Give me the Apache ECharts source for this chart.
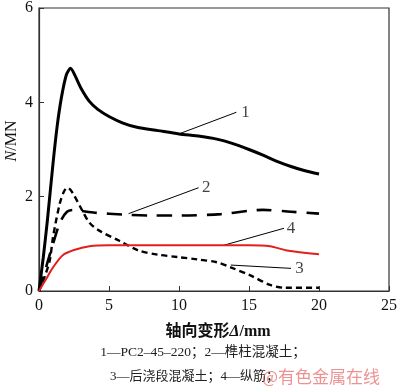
<!DOCTYPE html>
<html><head><meta charset="utf-8">
<script src="https://cdn.jsdelivr.net/npm/echarts@6/dist/echarts.min.js"></script>
<style>html,body{margin:0;padding:0;background:#fff}#c{width:400px;height:392px}</style>
</head><body><div id="c"></div>
<script>
// Series data: [axial deformation (mm), N (MN)]
const curve1 = [[0,0],[0.3,0.7],[0.6,1.5],[1.0,2.7],[1.3,3.5],[1.6,4.1],[1.95,4.58],[2.25,4.72],[2.6,4.55],[3.0,4.3],[3.6,4.02],[4.2,3.85],[5,3.7],[6,3.56],[7,3.47],[8.5,3.4],[10,3.33],[11.5,3.28],[12.7,3.22],[13.8,3.13],[15,3.0],[16,2.88],[17,2.75],[18,2.64],[19,2.55],[20,2.48]];
const curve2 = [[0,0],[0.3,0.3],[0.7,0.7],[1.0,1.0],[1.5,1.45],[2.0,1.68],[2.5,1.72],[3,1.7],[4,1.66],[6,1.62],[8,1.6],[10,1.6],[13,1.63],[15,1.7],[16,1.72],[18,1.68],[20,1.64]];
const curve3 = [[0,0],[0.4,0.3],[0.77,0.65],[1.0,1.14],[1.48,1.85],[1.8,2.12],[2.05,2.19],[2.4,2.08],[3.1,1.7],[3.6,1.45],[4.3,1.28],[5.7,1.07],[7.1,0.86],[8.5,0.77],[9.9,0.72],[11.3,0.67],[12.7,0.61],[13.7,0.5],[15.1,0.33],[16.5,0.13],[17.5,0.07],[20,0.07]];
const curve4 = [[0,0],[0.5,0.25],[1.0,0.5],[1.7,0.76],[2.5,0.87],[3.6,0.95],[5,0.97],[10,0.97],[15,0.97],[16.5,0.95],[17.7,0.86],[20,0.78]];
// leader lines: [start, end] and label positions
const leader1 = [[9.9,3.32],[14.1,3.79]];
const leader2 = [[6.4,1.64],[11.4,2.19]];
const leader3 = [[13.7,0.55],[18.0,0.48]];
const leader4 = [[13.2,0.97],[17.5,1.33]];
const curveLabels = [[14.75,3.79,'1'],[11.95,2.19,'2'],[18.6,0.48,'3'],[18.0,1.33,'4']];
const xTicks = [0,5,10,15,20,25];
const yTicks = [0,2,4,6];
const xTitle = '轴向变形';
const caption1 = '1—PC2–45–220；2—榫柱混凝土；';
const caption2 = '3—后浇段混凝土；4—纵筋；';
const watermark = '@有色金属在线';

const serif = '"Liberation Serif","Times New Roman",serif';
const cjk = '"Liberation Serif","Noto Sans CJK SC",serif';
const chart = echarts.init(document.getElementById('c'));
function leader(d){return {type:'line',data:d,symbol:'none',lineStyle:{color:'#000',width:1},silent:true,z:3};}
chart.setOption({
  animation:false,
  grid:{left:39,right:6,top:6,bottom:101,show:true,borderColor:'#333',borderWidth:1.2},
  xAxis:{type:'value',min:0,max:25,interval:5,
    axisLine:{lineStyle:{color:'#333',width:1.2}},
    axisTick:{inside:true,length:5,lineStyle:{color:'#333'}},
    axisLabel:{fontFamily:serif,fontSize:16,color:'#111',margin:7,formatter:v=>xTicks.includes(v)?String(v):''},
    splitLine:{show:false}},
  yAxis:{type:'value',min:0,max:6,interval:2,
    axisLine:{lineStyle:{color:'#333',width:1.2}},
    axisTick:{inside:true,length:5,lineStyle:{color:'#333'}},
    axisLabel:{fontFamily:serif,fontSize:16,color:'#111',margin:6,formatter:v=>yTicks.includes(v)?String(v):''},
    splitLine:{show:false}},
  series:[
    {type:'line',data:curve1,smooth:0.25,symbol:'none',lineStyle:{color:'#000',width:3},z:5},
    {type:'line',data:curve2,smooth:0.3,symbol:'none',lineStyle:{color:'#000',width:2.6,type:[15,10]},z:5},
    {type:'line',data:curve3,smooth:0.3,symbol:'none',lineStyle:{color:'#000',width:2.4,type:[6,4]},z:5},
    {type:'line',data:curve4,smooth:0.3,symbol:'none',lineStyle:{color:'#e0201c',width:2},z:5},
    leader(leader1),leader(leader2),leader(leader3),leader(leader4),
    {type:'scatter',data:curveLabels.map(d=>[d[0],d[1],d[2]]),symbolSize:0,silent:true,
      label:{show:true,position:'inside',formatter:p=>p.data[2],fontFamily:serif,fontSize:17,color:'#111'}}
  ],
  graphic:[
    {type:'text',x:12,y:141,rotation:Math.PI/2,style:{text:'{i|N}/MN',rich:{i:{fontStyle:'italic',fontFamily:serif,fontSize:16}},fontFamily:serif,fontSize:16,fill:'#111',align:'center',verticalAlign:'middle'}},
    {type:'text',x:218,y:332,style:{text:xTitle+'{d|Δ}/mm',rich:{d:{fontStyle:'italic',fontFamily:serif,fontSize:16,fontWeight:'bold'}},fontFamily:cjk,fontSize:16,fontWeight:'bold',fill:'#111',align:'center',verticalAlign:'middle'}},
    {type:'text',x:203,y:352,style:{text:caption1,fontFamily:cjk,fontSize:13.5,fill:'#222',align:'center',verticalAlign:'middle'}},
    {type:'text',x:110,y:377,style:{text:caption2,fontFamily:cjk,fontSize:13,fill:'#222',align:'left',verticalAlign:'middle'}},
    {type:'text',x:262,y:377,style:{text:watermark,fontFamily:'"Noto Sans CJK SC",sans-serif',fontSize:17,fill:'rgba(230,100,100,0.7)',align:'left',verticalAlign:'middle'}}
  ]
});
</script></body></html>
